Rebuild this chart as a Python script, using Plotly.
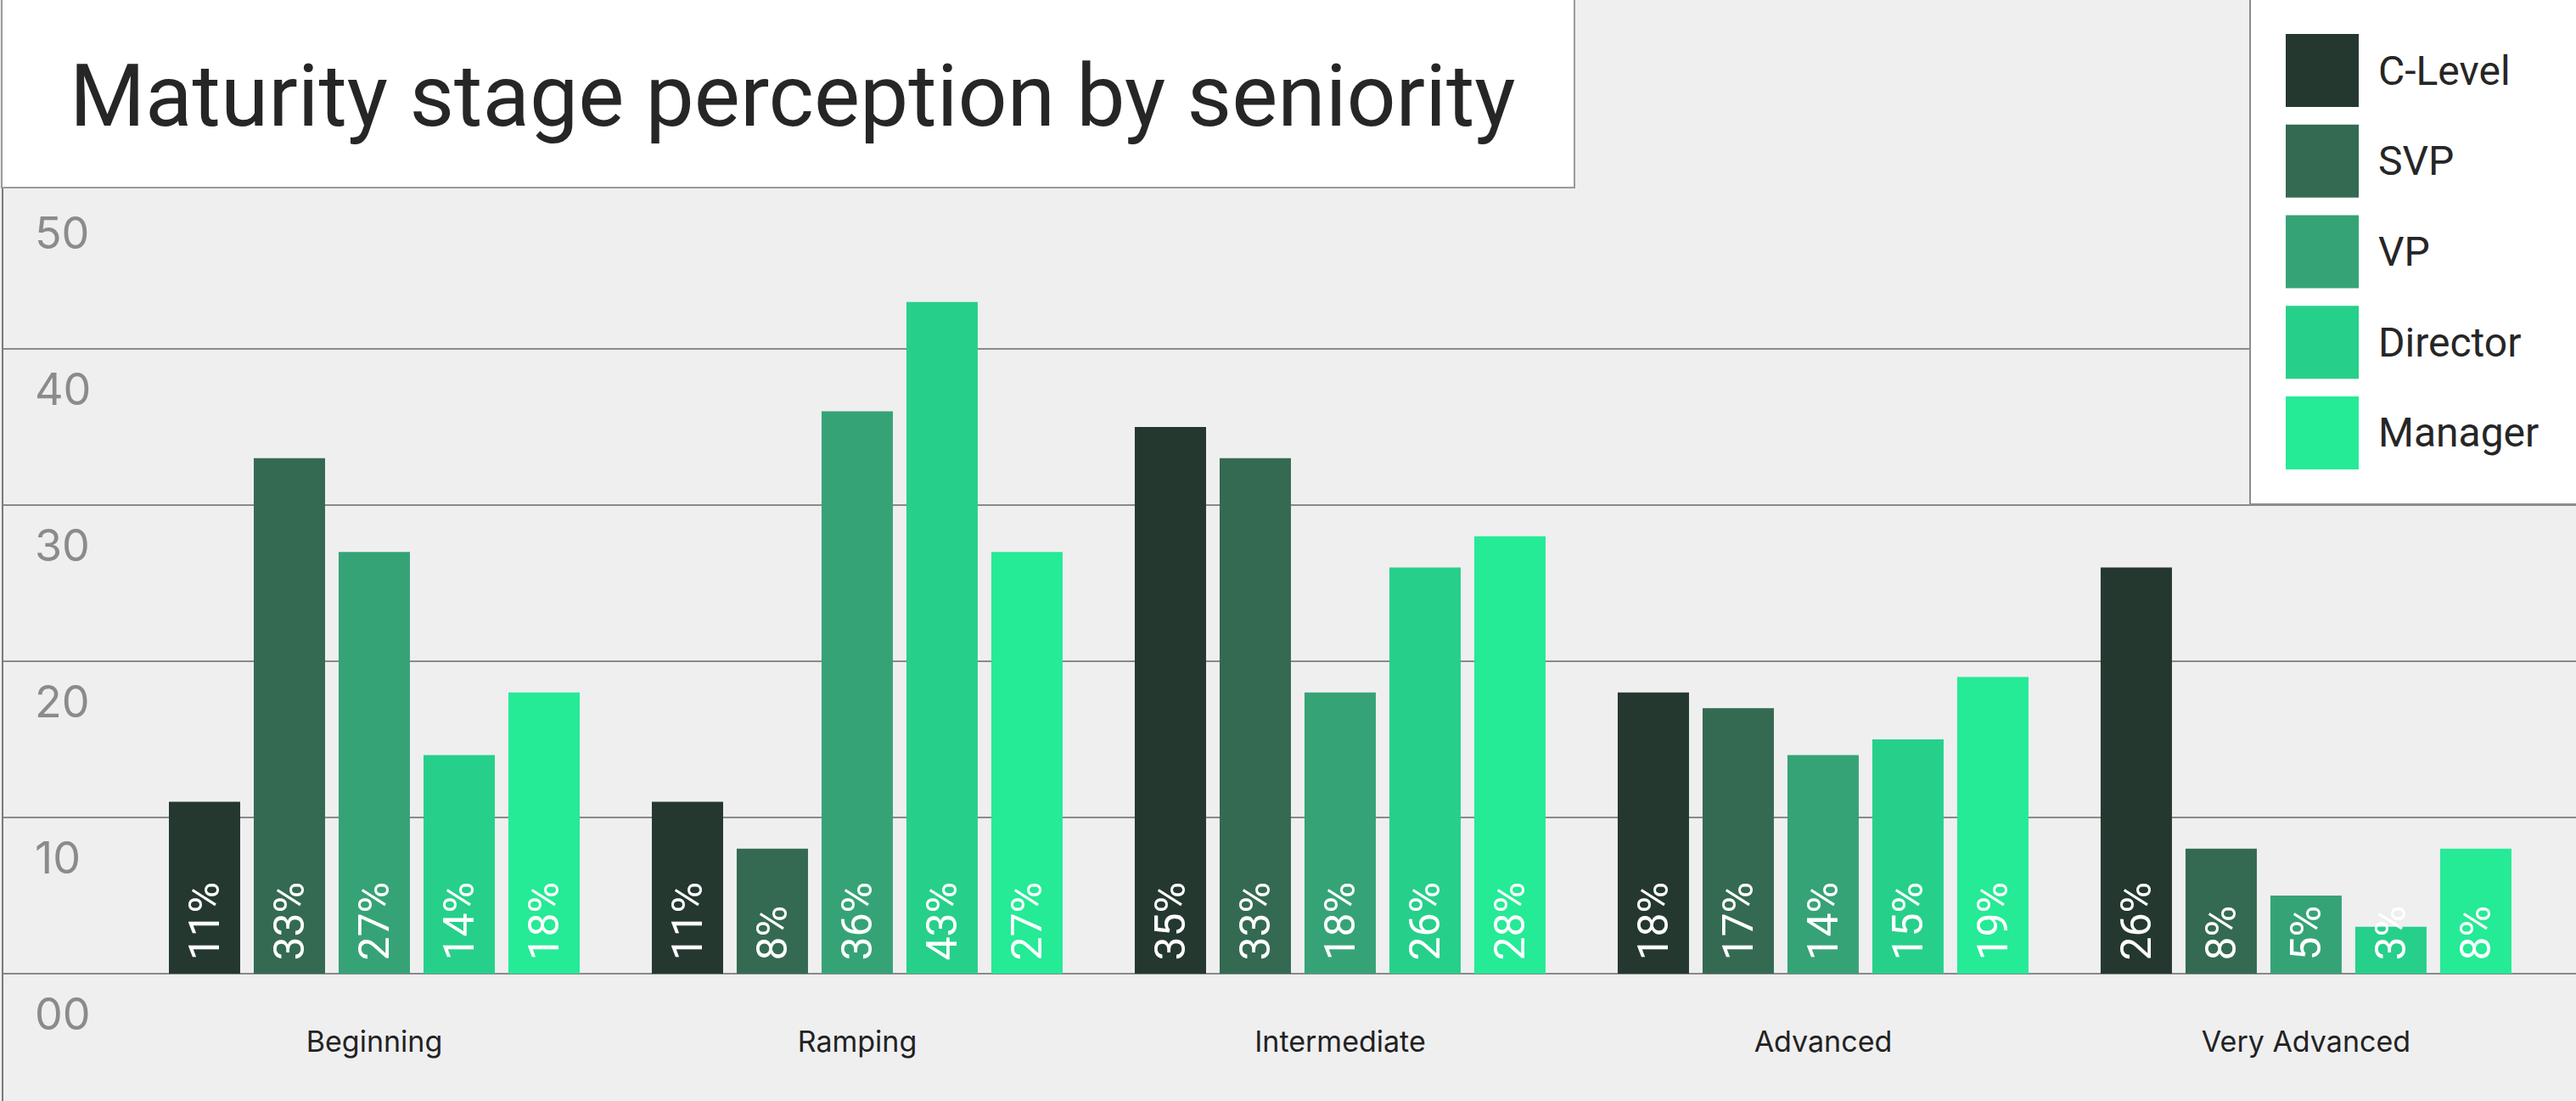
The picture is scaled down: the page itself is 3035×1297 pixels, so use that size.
import plotly.graph_objects as go

# ---- data -------------------------------------------------------------
stages = ["Beginning", "Ramping", "Intermediate", "Advanced", "Very Advanced"]

c_level = [11, 11, 35, 18, 26]
svp = [33, 8, 33, 17, 8]
vp = [27, 36, 18, 14, 5]
director = [14, 43, 26, 15, 3]
manager = [18, 27, 28, 19, 8]

series_names = ["C-Level", "SVP", "VP", "Director", "Manager"]
series_values = [c_level, svp, vp, director, manager]
series_colors = ["#243830", "#346A52", "#36A376", "#26D08A", "#25EA96"]

y_tickvals = [0, 10, 20, 30, 40, 50]
y_ticktext = ["00", "10", "20", "30", "40", "50"]
grid_vals = [0, 10, 20, 30, 40]

title_text = "Maturity stage perception by seniority"

# ---- page geometry ----------------------------------------------------
W, H = 3035, 1297
LEFT = 4
BG = "#efeff0"
GRID = "#8a8a8a"


def px_x(p):
    return (p - LEFT) / (W - LEFT)


def px_y(p):
    return 1 - p / H


fig = go.Figure()

for name, vals, color in zip(series_names, series_values, series_colors):
    fig.add_trace(go.Bar(
        x=stages,
        y=vals,
        name=name,
        marker=dict(color=color, line=dict(width=0)),
        texttemplate="\u00a0%{y}%",
        textposition="inside",
        insidetextanchor="start",
        textangle=-90,
        textfont=dict(family="Roboto", size=50, color="#ffffff"),
        cliponaxis=False,
        showlegend=False,
        hoverinfo="x+y+name",
    ))

# helper trace so the labelled overlay axis exists
fig.add_trace(go.Scatter(x=[], y=[], yaxis="y2", showlegend=False, hoverinfo="skip"))

y_range = [-(H - 1147) / 18.4, 1147 / 18.4]

shapes = [
    # title panel
    dict(type="rect", xref="paper", yref="paper",
         x0=px_x(2), x1=px_x(1855), y0=px_y(221), y1=px_y(-10),
         fillcolor="#ffffff", line=dict(color="#9a9a9a", width=2), layer="above"),
    # legend panel
    dict(type="rect", xref="paper", yref="paper",
         x0=px_x(2651), x1=px_x(W + 10), y0=px_y(594), y1=px_y(-10),
         fillcolor="#ffffff", line=dict(color="#8c8c8c", width=2), layer="above"),
]
annotations = []

# legend swatches and names
for i, (name, color) in enumerate(zip(series_names, series_colors)):
    top = 40 + i * 106.75
    shapes.append(dict(type="rect", xref="paper", yref="paper",
                       x0=px_x(2693), x1=px_x(2779), y0=px_y(top + 86), y1=px_y(top),
                       fillcolor=color, line=dict(width=0), layer="above"))
    annotations.append(dict(xref="paper", yref="paper", x=px_x(2800), y=px_y(top + 43),
                            xanchor="left", yanchor="middle", showarrow=False,
                            text=name, font=dict(family="Roboto", size=48, color="#262626")))

fig.update_layout(
    width=W, height=H,
    margin=dict(l=LEFT, r=0, t=0, b=0, pad=0),
    paper_bgcolor=BG, plot_bgcolor=BG,
    barmode="group", bargap=0.1213, bargroupgap=0.16,
    uniformtext=dict(mode="show", minsize=50),
    title=dict(text=title_text, xref="container", yref="container",
               x=82 / W, xanchor="left", y=1 - 112 / H, yanchor="middle",
               font=dict(family="Roboto", size=102, color="#262626")),
    xaxis=dict(range=[-0.768, 4.559], anchor="free", position=(H - 1147) / H,
               showline=False, ticks="", showgrid=False, zeroline=False,
               tickfont=dict(family="Inter", size=34, color="#222222"),
               ticklabelstandoff=57),
    yaxis=dict(range=y_range, tickvals=grid_vals, showticklabels=False,
               showgrid=True, gridcolor=GRID, gridwidth=2, zeroline=False,
               showline=True, linecolor="#7a7a7a", linewidth=2, ticks=""),
    yaxis2=dict(range=y_range, overlaying="y", side="left",
                tickvals=y_tickvals, ticktext=y_ticktext,
                ticklabelposition="inside", ticklabelshift=48, ticklabelstandoff=34,
                ticklabeloverflow="allow",
                tickfont=dict(family="Inter", size=52, color="#8b8b8b"),
                showgrid=False, zeroline=False, showline=False, ticks=""),
    shapes=shapes,
    annotations=annotations,
)

fig.write_html("out.html")
